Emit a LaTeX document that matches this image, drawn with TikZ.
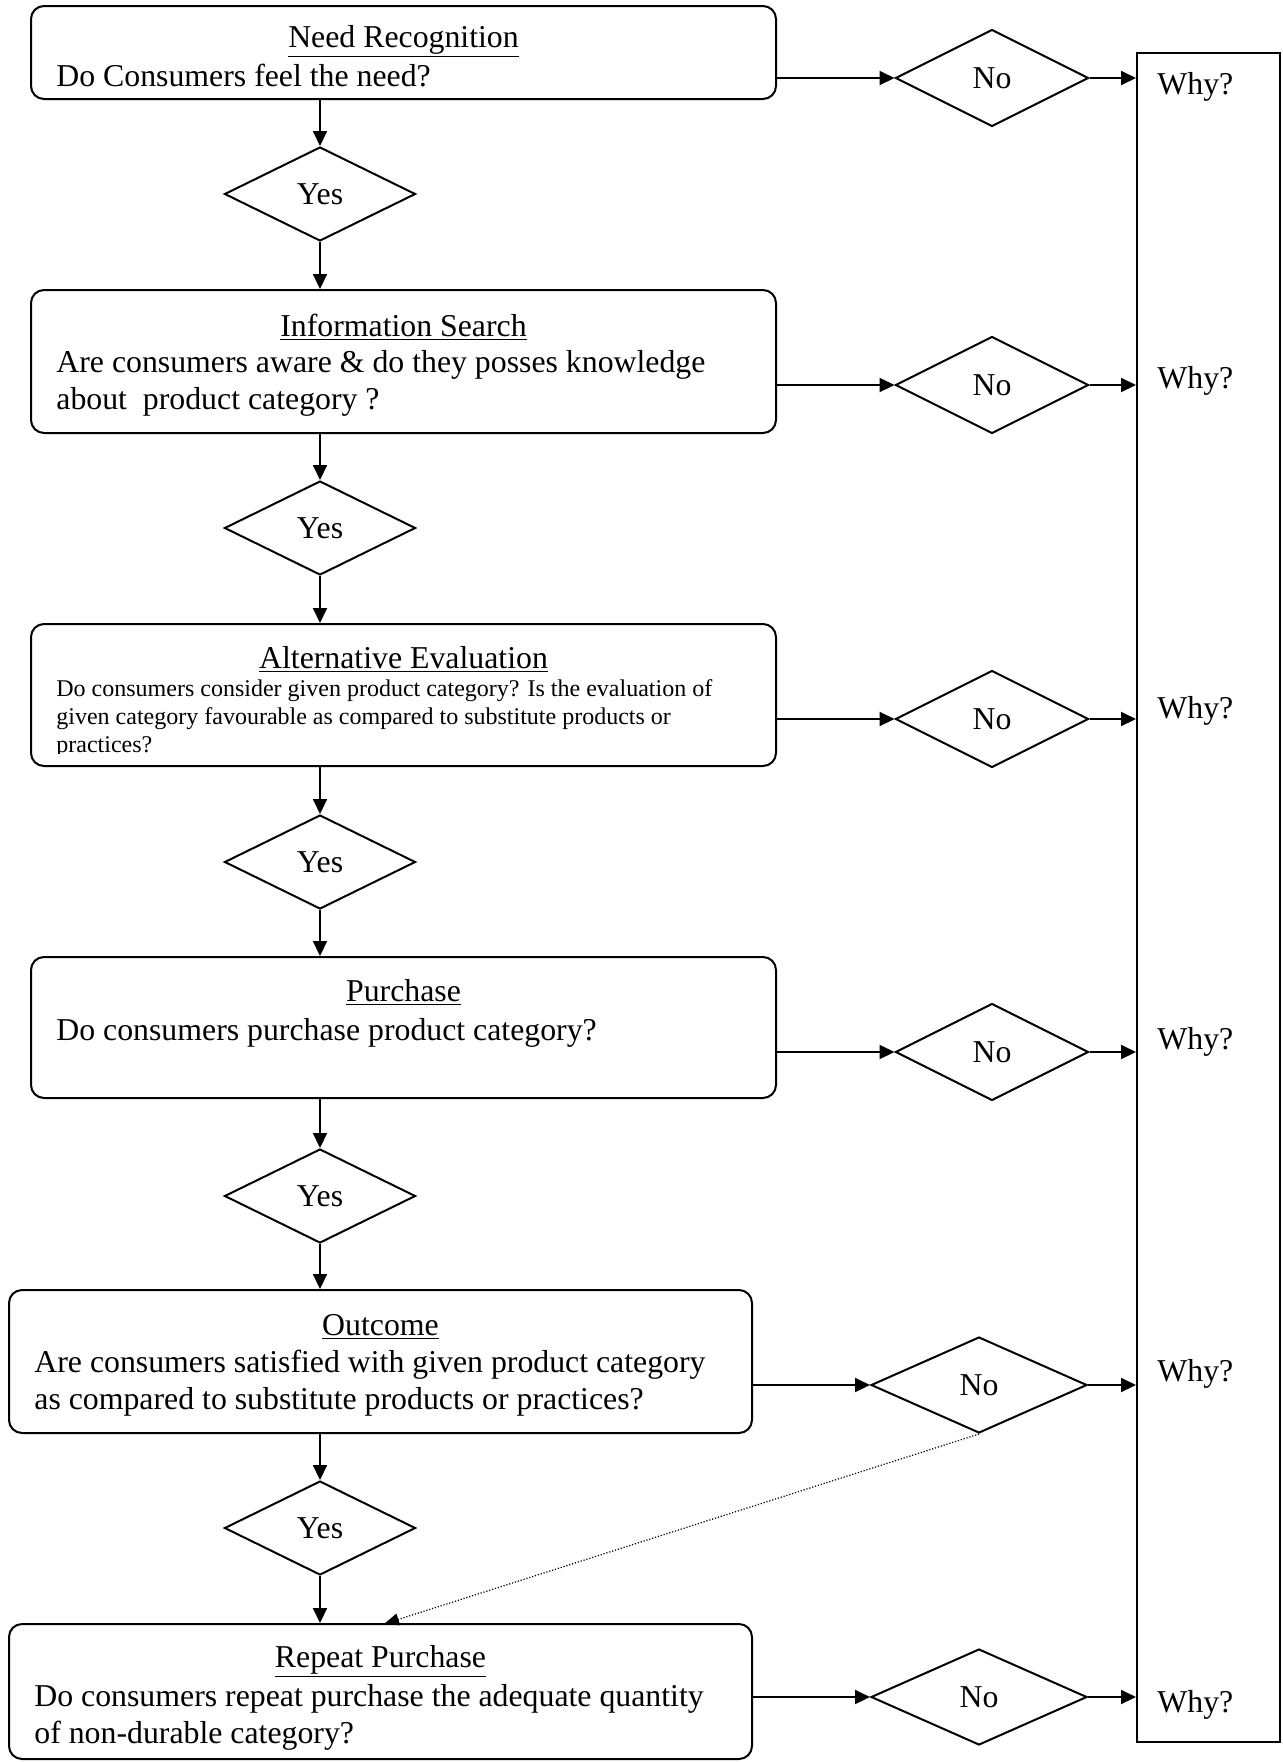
\documentclass[tikz,border=0pt]{standalone}
\usepackage{fontspec}
\setmainfont{Liberation Serif}
\usetikzlibrary{shapes.geometric,arrows.meta}
\begin{document}
\begin{tikzpicture}[x=0.5pt,y=-0.5pt,
  box/.style={draw, rounded corners=6.5pt, line width=1pt, inner sep=0pt, minimum width=372.5pt},
  dia/.style={draw, diamond, line width=1pt, inner sep=0pt, font=\fontsize{15.9}{18}\selectfont},
  yesd/.style={dia, minimum width=95.5pt, minimum height=47pt},
  nod/.style={dia, minimum width=96.5pt, minimum height=48.5pt},
  nodw/.style={dia, minimum width=108pt, minimum height=48pt},
  ttl/.style={inner sep=0pt, font=\fontsize{15.9}{18}\selectfont, text height=12pt, text depth=2pt},
  txt/.style={ttl, anchor=west},
  stxt/.style={inner sep=0pt, anchor=west, font=\fontsize{12}{14}\selectfont, text height=9pt, text depth=1.5pt},
  arr/.style={line width=1pt, -{Triangle[length=7.5pt,width=7pt]}},
  dotarr/.style={line width=0.6pt, dash pattern=on 0.6pt off 0.9pt, -{Triangle[length=7.5pt,width=6pt]}},
]
\useasboundingbox (0,0) rectangle (1282,1762);

% boxes
\node[box, minimum height=46.5pt] (b1) at (403.5,52.5) {};
\node[box, minimum height=71.5pt] (b2) at (403.5,361.5) {};
\node[box, minimum height=71pt] (b3) at (403.5,695) {};
\node[box, minimum height=70.5pt] (b4) at (403.5,1027.5) {};
\node[box, minimum width=371.5pt, minimum height=71.5pt] (b5) at (380.5,1361.5) {};
\node[box, minimum width=371.5pt, minimum height=67.5pt] (b6) at (380.5,1691.5) {};

% box texts
\node[ttl] (t1) at (403.5,37) {\underline{Need Recognition}};
\node[txt] (l1a) at (56,76) {Do Consumers feel the need?};

\node[ttl] (t2) at (403.5,326) {\underline{Information Search}};
\node[txt] (l2a) at (56,362) {Are consumers aware \& do they posses knowledge};
\node[txt] (l2b) at (56,399) {about\ \ product category ?};

\node[ttl] (t3) at (403.5,658) {\underline{Alternative Evaluation}};
\begin{scope}
  \clip (40,670) rectangle (770,753);
  \node[stxt] (l3a) at (56,689) {Do consumers consider given product category? Is the evaluation of};
  \node[stxt] (l3b) at (56,717) {given category favourable as compared to substitute products or};
  \node[stxt] (l3c) at (56,745) {practices?};
\end{scope}

\node[ttl] (t4) at (403.5,991) {\underline{Purchase}};
\node[txt] (l4a) at (56,1030) {Do consumers purchase product category?};

\node[ttl] (t5) at (380.5,1325) {\underline{Outcome}};
\node[txt] (l5a) at (34,1362) {Are consumers satisfied with given product category};
\node[txt] (l5b) at (34,1399) {as compared to substitute products or practices?};

\node[ttl] (t6) at (380.5,1657) {\underline{Repeat Purchase}};
\node[txt] (l6a) at (34,1696) {Do consumers repeat purchase the adequate quantity};
\node[txt] (l6b) at (34,1733) {of non-durable category?};

% yes diamonds
\node[yesd] (y1) at (320,194) {Yes};
\node[yesd] (y2) at (320,528) {Yes};
\node[yesd] (y3) at (320,862) {Yes};
\node[yesd] (y4) at (320,1196) {Yes};
\node[yesd] (y5) at (320,1528) {Yes};

% no diamonds
\node[nod] (n1) at (992,78) {No};
\node[nod] (n2) at (992,385) {No};
\node[nod] (n3) at (992,719) {No};
\node[nod] (n4) at (992,1052) {No};
\node[nodw] (n5) at (979,1385) {No};
\node[nodw] (n6) at (979,1697) {No};

% why column
\node[draw, line width=1pt, inner sep=0pt, minimum width=71.5pt, minimum height=844.5pt] (why) at (1208.5,897.5) {};
\node[txt] (w1) at (1157,84) {Why?};
\node[txt] (w2) at (1157,378) {Why?};
\node[txt] (w3) at (1157,708) {Why?};
\node[txt] (w4) at (1157,1039) {Why?};
\node[txt] (w5) at (1157,1371) {Why?};
\node[txt] (w6) at (1157,1702) {Why?};

% vertical flow
\draw[arr] (y1 |- b1.south) -- (y1.north);
\draw[arr] (y1.south) -- (y1 |- b2.north);
\draw[arr] (y2 |- b2.south) -- (y2.north);
\draw[arr] (y2.south) -- (y2 |- b3.north);
\draw[arr] (y3 |- b3.south) -- (y3.north);
\draw[arr] (y3.south) -- (y3 |- b4.north);
\draw[arr] (y4 |- b4.south) -- (y4.north);
\draw[arr] (y4.south) -- (y4 |- b5.north);
\draw[arr] (y5 |- b5.south) -- (y5.north);
\draw[arr] (y5.south) -- (y5 |- b6.north);

% horizontal flow
\draw[arr] (n1.west -| b1.east) -- (n1.west);
\draw[arr] (n2.west -| b2.east) -- (n2.west);
\draw[arr] (n3.west -| b3.east) -- (n3.west);
\draw[arr] (n4.west -| b4.east) -- (n4.west);
\draw[arr] (n5.west -| b5.east) -- (n5.west);
\draw[arr] (n6.west -| b6.east) -- (n6.west);

\draw[arr] (n1.east) -- (n1.east -| why.west);
\draw[arr] (n2.east) -- (n2.east -| why.west);
\draw[arr] (n3.east) -- (n3.east -| why.west);
\draw[arr] (n4.east) -- (n4.east -| why.west);
\draw[arr] (n5.east) -- (n5.east -| why.west);
\draw[arr] (n6.east) -- (n6.east -| why.west);

% dotted feedback
\coordinate (d6) at (384,1624);
\draw[dotarr] (n5.south) -- (d6);
\end{tikzpicture}
\end{document}
